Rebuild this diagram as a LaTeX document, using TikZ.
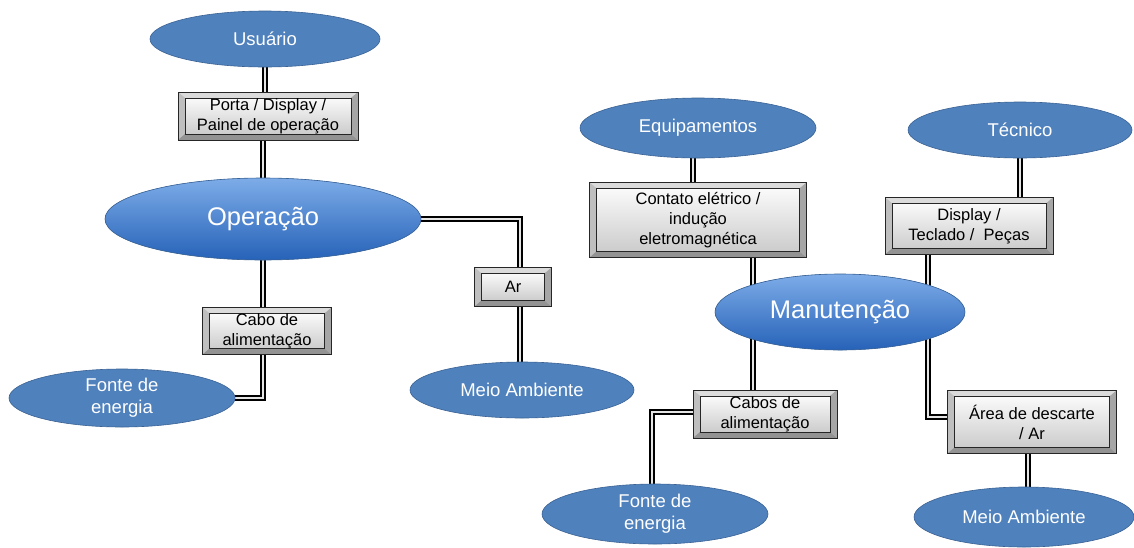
\documentclass[tikz,border=0pt]{standalone}
\usepackage{fontspec}
\setmainfont{Liberation Sans}
\usetikzlibrary{shapes.geometric,backgrounds}

\newcommand\bigtxt{\fontsize{25.5}{28}\selectfont}
\newcommand\blobtxt{\fontsize{18.5}{22}\selectfont}
\newcommand\boxtxt{\fontsize{16.5}{20}\selectfont}

\begin{document}
\begin{tikzpicture}[x=1pt,y=-1pt,
  blob/.style={ellipse, draw=BlobLine, line width=0.6pt, fill=BlobFill,
    text=white, font=\blobtxt, align=center, inner sep=0pt},
  bigblob/.style={blob, top color=BigTop, bottom color=BigBot, font=\bigtxt},
  link/.style={draw=black, line width=1.7pt, double=white!80!gray, double distance=2pt},
  bevel/.style={rectangle, draw=black!85, line width=0.7pt, fill=gray!55,
    font=\boxtxt, align=center, inner sep=0pt,
    path picture={
      \coordinate (bnw) at (path picture bounding box.north west);
      \coordinate (bne) at (path picture bounding box.north east);
      \coordinate (bsw) at (path picture bounding box.south west);
      \coordinate (bse) at (path picture bounding box.south east);
      \coordinate (inw) at ([shift={(7pt,-6pt)}]bnw);
      \coordinate (ine) at ([shift={(-7pt,-6pt)}]bne);
      \coordinate (isw) at ([shift={(7pt,6pt)}]bsw);
      \coordinate (ise) at ([shift={(-7pt,6pt)}]bse);
      \fill[gray!28] (bnw) -- (bne) -- (ine) -- (inw) -- cycle;
      \fill[gray!50] (bnw) -- (inw) -- (isw) -- (bsw) -- cycle;
      \fill[gray!85] (bsw) -- (isw) -- (ise) -- (bse) -- cycle;
      \fill[gray!70] (bne) -- (bse) -- (ise) -- (ine) -- cycle;
      \shade[top color=gray!4, bottom color=gray!40] (inw) rectangle (ise);
      \draw[line width=0.4pt] (inw) rectangle (ise);
    }}]
%\draw[help lines,step=50] (0,0) grid (1134,547);
\definecolor{BlobFill}{RGB}{79,129,189}
\definecolor{BlobLine}{RGB}{58,98,148}
\definecolor{BigTop}{RGB}{125,172,232}
\definecolor{BigBot}{RGB}{38,98,184}
\useasboundingbox (0,0) rectangle (1134,547);

%% Operacao
\node[blob, minimum width=230pt, minimum height=56pt] (usuario) at (265,39) {Usuário};
\node[bevel, minimum width=180pt, minimum height=48pt] (porta) at (268,116) {Porta / Display /\\Painel de operação};
\node[bigblob, minimum width=316pt, minimum height=82pt] (operacao) at (263,219) {Operação};
\node[bevel, minimum width=129pt, minimum height=47pt] (cabo) at (267,331) {Cabo de\\alimentação};
\node[blob, minimum width=226pt, minimum height=58pt] (fonteA) at (122,398) {Fonte de\\energia};
\node[bevel, minimum width=77pt, minimum height=39pt] (ar) at (513,287) {Ar};
\node[blob, minimum width=224pt, minimum height=56pt] (meioA) at (522,390) {Meio Ambiente};

%% Manutencao
\node[blob, minimum width=236pt, minimum height=60pt] (equip) at (698,128) {Equipamentos};
\node[bevel, minimum width=217pt, minimum height=75pt] (contato) at (698,220) {Contato elétrico /\\indução\\eletromagnética};
\node[blob, minimum width=224pt, minimum height=56pt] (tecnico) at (1020,130) {Técnico};
\node[bevel, minimum width=168pt, minimum height=57pt] (display) at (969,226) {Display /\\Teclado / \ Peças};
\node[bigblob, minimum width=250pt, minimum height=76pt] (manut) at (840,312) {Manutenção};
\node[bevel, minimum width=144pt, minimum height=48pt] (cabos) at (765,414) {Cabos de\\alimentação};
\node[blob, minimum width=226pt, minimum height=60pt] (fonteB) at (655,514) {Fonte de\\energia};
\node[bevel, minimum width=169pt, minimum height=63pt] (area) at (1032,422) {Área de descarte\\/ Ar};
\node[blob, minimum width=220pt, minimum height=60pt] (meioB) at (1024,517) {Meio Ambiente};

%% Ligacoes (double lines, behind the shapes)
\coordinate (portaout) at ([xshift=-5pt]porta.center);
\coordinate (cabout) at ([xshift=-4pt]cabo.center);
\coordinate (arin) at ([xshift=7pt]ar.center);
\coordinate (equipout) at ([xshift=-5pt]equip.center);
\coordinate (manutx) at ([xshift=-87pt]manut.center);
\coordinate (dispout) at ([xshift=-41pt]display.center);
\coordinate (areain) at ([yshift=5pt]area.center);
\coordinate (areaout) at ([xshift=-4pt]area.center);
\coordinate (cabosout) at ([yshift=2pt]cabos.center);
\coordinate (fonteBin) at ([xshift=-3pt]fonteB.center);
\begin{scope}[on background layer]
\draw[link] (usuario) -- (usuario |- porta);
\draw[link] (portaout) -- (portaout |- operacao);
\draw[link] (operacao) -- (operacao |- cabo);
\draw[link] (cabout) |- (fonteA);
\draw[link] (operacao) -| (arin);
\draw[link] (arin) -- (arin |- meioA);
\draw[link] (equipout) -- (equipout |- contato);
\draw[link] (manutx |- contato) -- (manutx |- cabos);
\draw[link] (tecnico) -- (tecnico |- display);
\draw[link] (dispout) |- (areain);
\draw[link] (areaout) -- (areaout |- meioB);
\draw[link] (cabosout) -| (fonteBin);
\end{scope}
\end{tikzpicture}
\end{document}
